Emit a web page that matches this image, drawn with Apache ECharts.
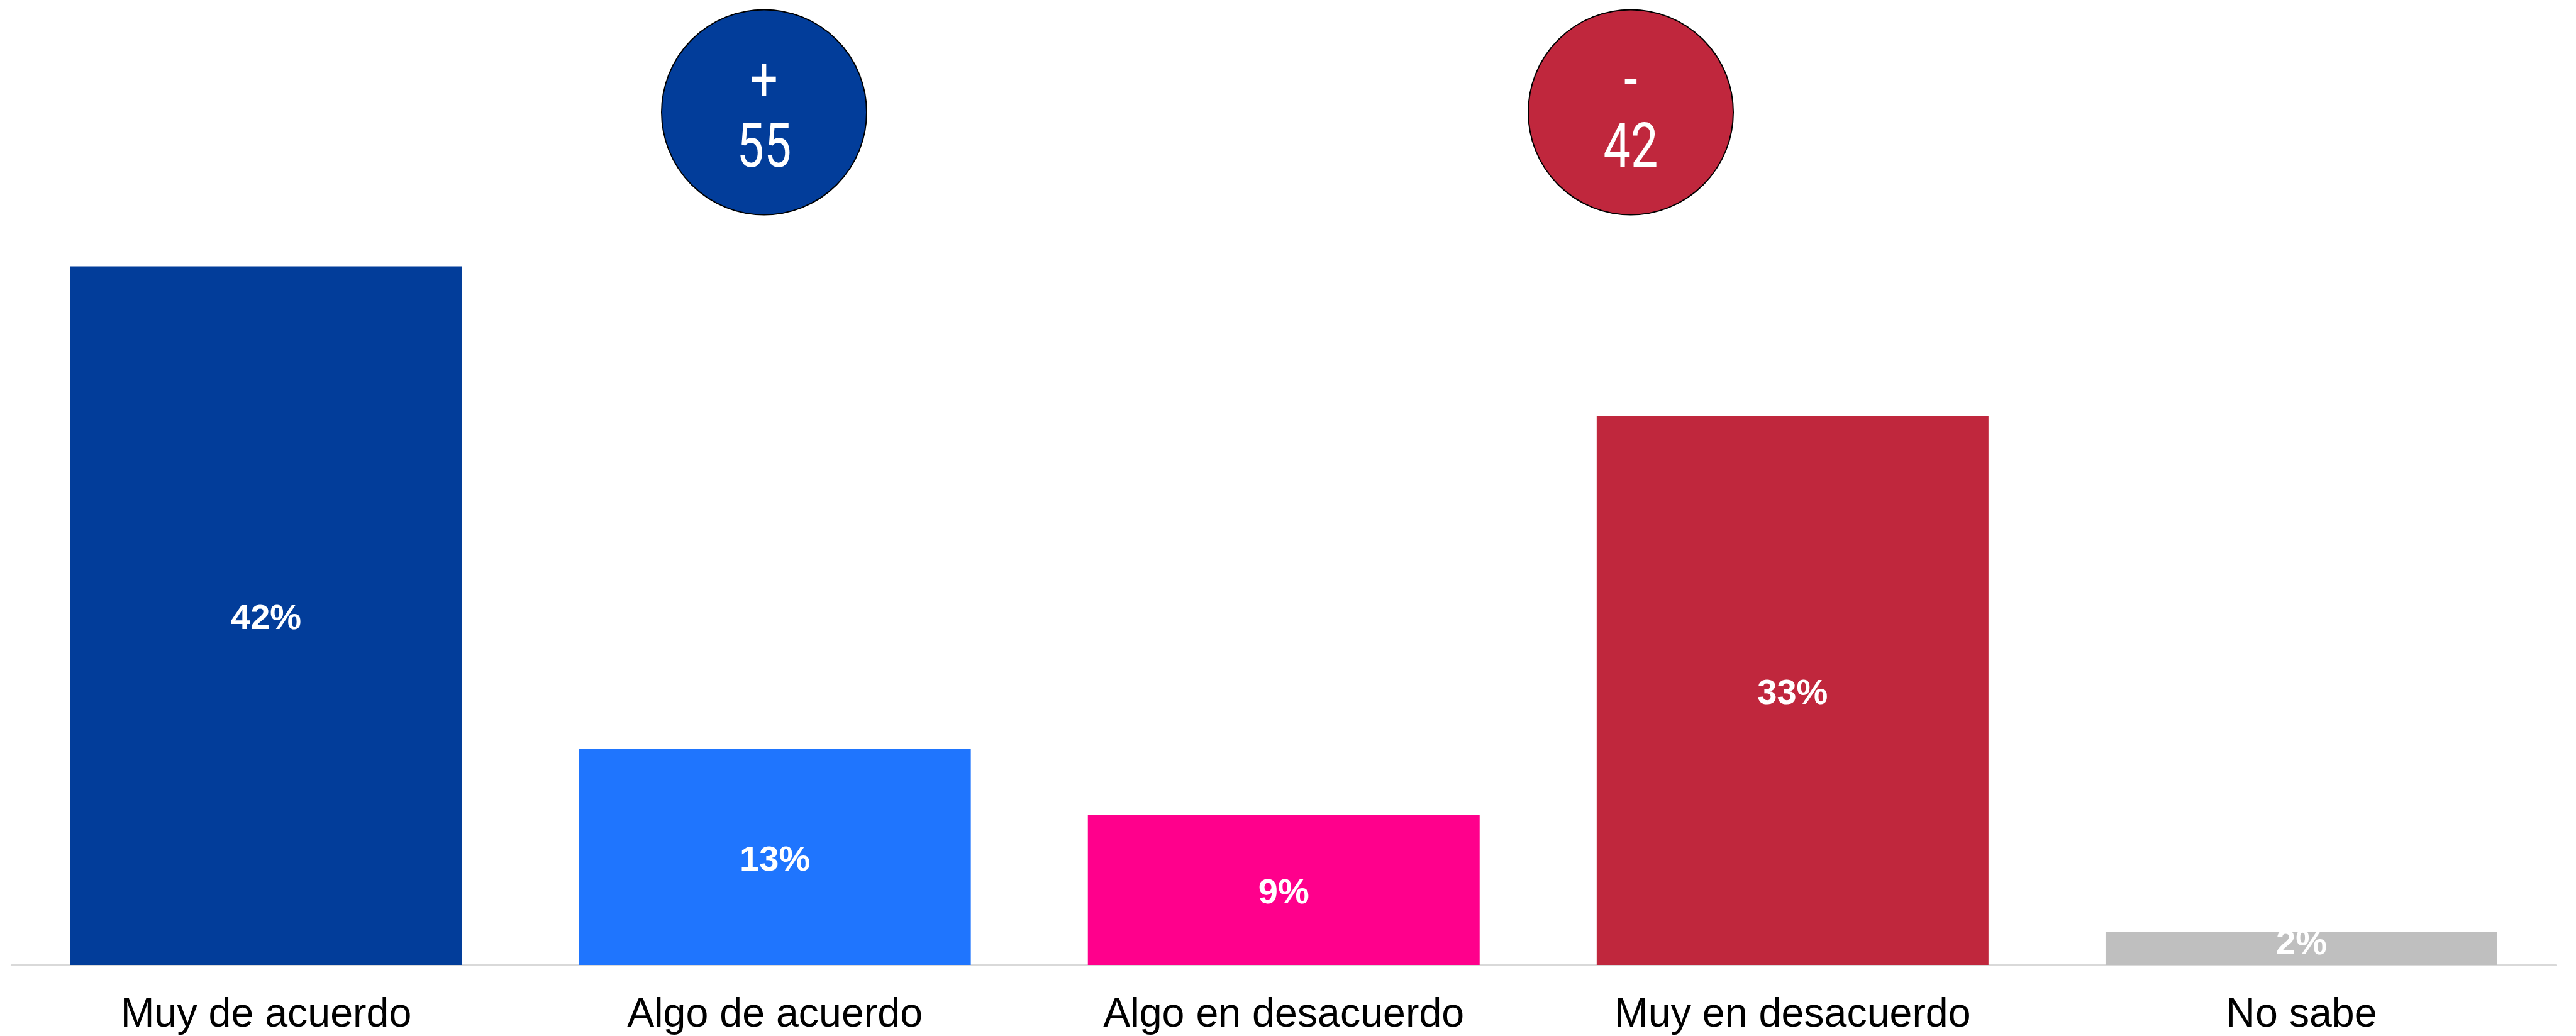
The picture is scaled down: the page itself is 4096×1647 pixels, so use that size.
<!DOCTYPE html>
<html>
<head>
<meta charset="utf-8">
<script src="https://cdn.jsdelivr.net/npm/echarts@6/dist/echarts.min.js"></script>
<style>
  html, body { margin: 0; padding: 0; background: #ffffff; }
  #chart { width: 4096px; height: 1647px; }
</style>
</head>
<body>
<div id="chart"></div>
<script>
// Survey answers and their shares (%)
const categories = ['Muy de acuerdo', 'Algo de acuerdo', 'Algo en desacuerdo', 'Muy en desacuerdo', 'No sabe'];
const values = [42, 13, 9, 33, 2];
const barColors = ['#023D9A', '#1F75FE', '#FF008C', '#C0273D', '#BFBFBF'];

// Net agreement / disagreement shown in the bubbles
const agreeTotal = values[0] + values[1];
const disagreeTotal = values[2] + values[3];

const chart = echarts.init(document.getElementById('chart'), null, { renderer: 'canvas' });

function bubble(cx, cy, r, fill, sign, total) {
  const textStyle = (t, y) => ({
    type: 'text',
    x: cx,
    y: y,
    scaleX: 0.78,
    scaleY: 1,
    z: 12,
    style: {
      text: t,
      x: 0,
      y: 0,
      fill: '#ffffff',
      fontFamily: 'Roboto',
      fontSize: 99,
      fontWeight: 'normal',
      textAlign: 'center',
      textVerticalAlign: 'middle',
      align: 'center',
      verticalAlign: 'middle'
    }
  });
  return [
    {
      type: 'circle',
      z: 10,
      shape: { cx: cx, cy: cy, r: r },
      style: { fill: fill, stroke: '#000000', lineWidth: 2 }
    },
    textStyle(sign, cy - 44),
    textStyle(String(total), cy + 62)
  ];
}

chart.setOption({
  animation: false,
  backgroundColor: '#ffffff',
  grid: { left: 18.5, right: 32, top: 212, bottom: 112, containLabel: false },
  xAxis: {
    type: 'category',
    data: categories,
    axisTick: { show: false },
    axisLine: { show: true, lineStyle: { color: '#d9d9d9', width: 3 } },
    axisLabel: {
      color: '#000000',
      fontFamily: 'Liberation Sans',
      fontSize: 64.5,
      margin: 48,
      interval: 0
    },
    splitLine: { show: false }
  },
  yAxis: {
    type: 'value',
    min: 0,
    max: 50,
    show: false,
    splitLine: { show: false }
  },
  series: [{
    type: 'bar',
    barWidth: '77%',
    data: values.map((v, i) => ({
      value: v,
      itemStyle: { color: barColors[i] },
      // thin bars keep their label nudged up toward the top edge
      label: { offset: v < 5 ? [0, -6] : [0, 6] }
    })),
    label: {
      show: true,
      position: 'inside',
      formatter: '{c}%',
      color: '#ffffff',
      fontFamily: 'Liberation Sans',
      fontWeight: 'bold',
      fontSize: 56
    }
  }],
  graphic: [
    ...bubble(1215, 178.5, 163, '#023D9A', '+', agreeTotal),
    ...bubble(2593, 178.5, 163, '#C0273D', '-', disagreeTotal)
  ]
});
</script>
</body>
</html>
